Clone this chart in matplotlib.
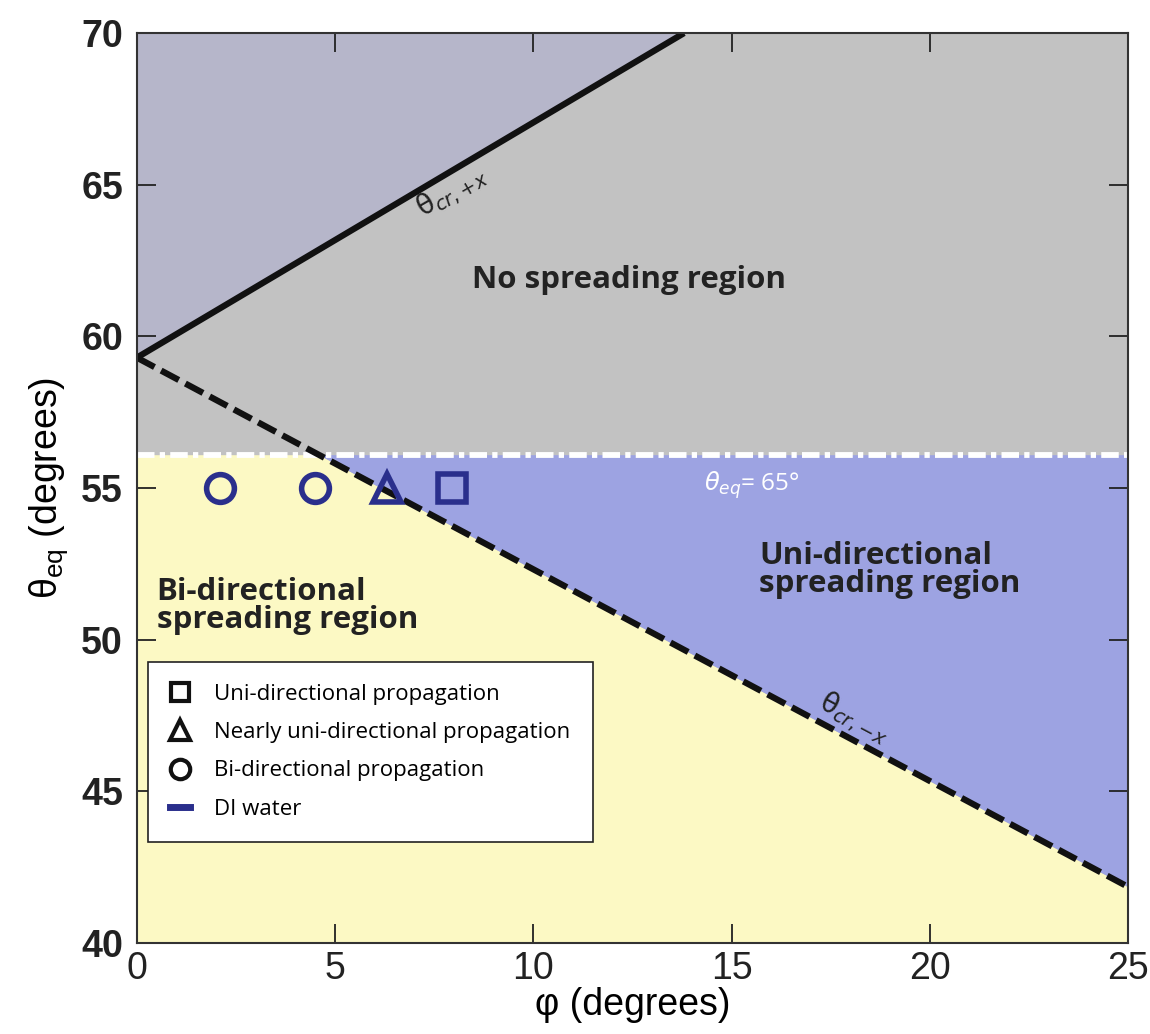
import numpy as np
import matplotlib.pyplot as plt
from matplotlib.lines import Line2D

# boundary lines
phi_plus = [0.0, 13.8]
theta_plus = [59.3, 70.0]
phi_minus = [0.0, 25.0]
theta_minus = [59.3, 41.85]
theta_eq_line = 56.1

# experiments (all at theta_eq = 55)
phi_bi = [2.1, 4.5]
phi_nearly = [6.3]
phi_uni = [7.95]
theta_exp = 55.0

GRAY = "#c2c2c2"
GRAY_BLUE = "#b6b6ca"
BLUE = "#9da3e2"
YELLOW = "#fcf9c4"
NAVY = "#2a2f8c"
SANS = ["Liberation Sans", "DejaVu Sans"]
MYRIAD = ["Open Sans", "DejaVu Sans"]

fig = plt.figure(figsize=(11.5, 10.34), dpi=100)
ax = fig.add_axes([0.119, 0.088, 0.862, 0.880])
ax.set_facecolor(GRAY)

# shaded regions
x = np.linspace(0, 25, 501)
upper = np.interp(x, phi_plus, theta_plus, right=np.nan)
lower = np.interp(x, phi_minus, theta_minus)
m = ~np.isnan(upper)
ax.fill_between(x[m], upper[m], 70, color=GRAY_BLUE, lw=0)
cap = np.minimum(lower, theta_eq_line)
ax.fill_between(x, 40, cap, color=YELLOW, lw=0)
ax.fill_between(x, cap, theta_eq_line, color=BLUE, lw=0)

# boundaries
ax.axhline(theta_eq_line, color="white", lw=4.2, ls=(0, (3, 0.9, 0.9, 0.9)))
ax.plot(phi_plus, theta_plus, color="#111111", lw=4.5, solid_capstyle="butt")
ax.plot(phi_minus, theta_minus, color="#111111", lw=4.5, ls=(0, (3.2, 1.2)))

# measurements
mk = dict(ls="none", mfc="none", mec=NAVY, ms=20, mew=4)
ax.plot(phi_bi, [theta_exp] * len(phi_bi), marker="o", **mk)
ax.plot(phi_nearly, [theta_exp], marker="^", **mk)
ax.plot(phi_uni, [theta_exp], marker="s", **mk)

# annotations
bold = dict(family=MYRIAD, fontweight="bold", fontsize=22.5, color="#222222")
ax.text(12.4, 61.85, "No spreading region", ha="center", va="center", **bold)
ax.text(15.7, 52.3, "Uni-directional\nspreading region", ha="left",
        va="center", linespacing=0.92, **bold)
ax.text(0.5, 51.1, "Bi-directional\nspreading region", ha="left",
        va="center", linespacing=0.92, **bold)
ax.text(7.95, 64.75, r"$\mathregular{\theta}_{cr,{+}x}$", rotation=30,
        ha="center", va="center", fontsize=20, color="#222222")
ax.text(18.1, 47.4, r"$\mathregular{\theta}_{cr,{-}x}$", rotation=-28,
        ha="center", va="center", fontsize=20, color="#222222")
ax.text(14.3, 55.1, r"$\theta_{eq}$= 65°", ha="left", va="center",
        fontsize=17.5, color="white", family=MYRIAD)

# legend
handles = [
    Line2D([], [], ls="none", marker="s", mfc="none", mec="#111111", ms=13, mew=3),
    Line2D([], [], ls="none", marker="^", mfc="none", mec="#111111", ms=14, mew=3),
    Line2D([], [], ls="none", marker="o", mfc="none", mec="#111111", ms=14, mew=3),
    Line2D([], [], color=NAVY, lw=5),
]
labels = ["Uni-directional propagation", "Nearly uni-directional propagation",
          "Bi-directional propagation", "DI water"]
leg = ax.legend(handles, labels, loc="lower left", bbox_to_anchor=(0.011, 0.111),
                borderaxespad=0, frameon=True, fancybox=False, handlelength=0.9,
                handletextpad=1.1, borderpad=1.0, labelspacing=0.78,
                prop={"family": MYRIAD, "size": 16})
leg.get_frame().set_edgecolor("#222222")
leg.get_frame().set_linewidth(1.2)
leg.get_frame().set_facecolor("white")
leg.get_frame().set_alpha(1)

ax.set_xlim(0, 25)
ax.set_ylim(40, 70)
ax.set_xticks([0, 5, 10, 15, 20, 25])
ax.set_yticks([40, 45, 50, 55, 60, 65, 70])
ax.tick_params(direction="in", length=14, width=1.3, top=True, right=True,
               colors="#222222")
ax.tick_params(axis="y", pad=10)
ax.tick_params(axis="x", pad=6)
for lab in ax.get_xticklabels():
    lab.set_family(SANS)
    lab.set_fontsize(27)
for lab in ax.get_yticklabels():
    lab.set_family(SANS)
    lab.set_fontweight("bold")
    lab.set_fontsize(27)
for s in ax.spines.values():
    s.set_linewidth(1.5)
    s.set_color("#333333")

ax.set_xlabel("φ (degrees)", fontsize=27, labelpad=0, family=SANS)
ax.set_ylabel(r"$\mathregular{\theta_{eq}}$ (degrees)", fontsize=27, labelpad=8,
              family=SANS)

fig.savefig("out.png", dpi=100)
